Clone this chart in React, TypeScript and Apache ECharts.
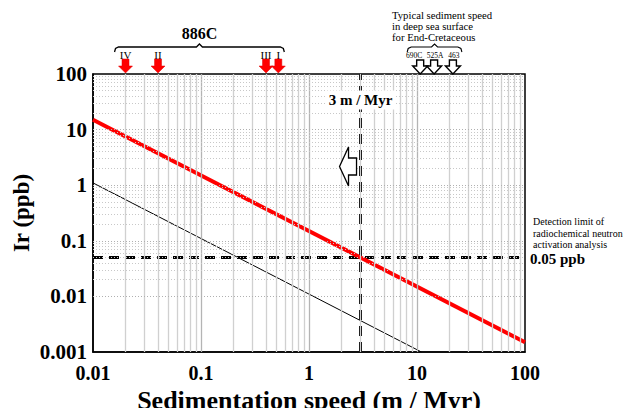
import React, { useEffect, useRef } from "react";
import * as echarts from "echarts";

const xTickLabels = ["0.01", "0.1", "1", "10", "100"];
const yTickLabels = ["0.001", "0.01", "0.1", "1", "10", "100"];
const redLine: [number, number][] = [[0.01, 15], [100, 0.0015]];
const blackLine: [number, number][] = [[0.01, 1.1], [11, 0.001]];
const detectionLimit = 0.05;
const speedLine = 3;
const site886C = [
  { label: "IV", speed: 0.02 },
  { label: "II", speed: 0.04 },
  { label: "III", speed: 0.4 },
  { label: "I", speed: 0.52 },
];
const deepSea = [
  { label: "690C", speed: 10.7 },
  { label: "525A", speed: 14.4 },
  { label: "463", speed: 21.5 },
];
const deepSeaLabelShift = [-6, 1, 1];
const minorMultipliers = [2, 3, 4, 5, 6, 7, 8, 9];
const xDecades = [0.01, 0.1, 1, 10];
const yDecades = [0.001, 0.01, 0.1, 1, 10];

const SERIF = '"Liberation Serif", "Times New Roman", serif';

function braceLine(x1: number, x2: number, y: number) {
  const cx = (x1 + x2) / 2;
  return [
    [x1, y + 5],
    [x1 + 1, y + 1.5],
    [x1 + 4, y],
    [cx - 3, y],
    [cx, y - 3],
    [cx + 3, y],
    [x2 - 4, y],
    [x2 - 1, y + 1.5],
    [x2, y + 5],
  ];
}

export default function App() {
  const ref = useRef<HTMLDivElement>(null);
  useEffect(() => {
    if (!ref.current) return;
    const chart = echarts.init(ref.current, null, { renderer: "svg" });
    const vMinor: any[] = [];
    xDecades.forEach((d) =>
      minorMultipliers.forEach((m) =>
        vMinor.push({ xAxis: d * m, lineStyle: { color: "#d0d0d0", width: 1.3, type: "solid" } })
      )
    );
    [0.1, 1, 10].forEach((d) =>
      vMinor.push({ xAxis: d, lineStyle: { color: "#b4b4b4", width: 1.3, type: "solid" } })
    );
    const hMinor: any[] = [];
    yDecades.forEach((d) =>
      minorMultipliers.forEach((m) =>
        hMinor.push({ yAxis: d * m, lineStyle: { color: "#c8c8c8", width: 1, type: [1, 2] } })
      )
    );
    [0.01, 0.1, 1, 10].forEach((d) =>
      hMinor.push({ yAxis: d, lineStyle: { color: "#b0b0b0", width: 1, type: [1, 2] } })
    );

    const labelFor = (arr: string[], offset: number) => (v: number) => {
      const e = Math.round(Math.log10(v));
      return arr[e + offset] ?? "";
    };

    chart.setOption({
      animation: false,
      grid: {
        left: 93,
        right: 108,
        top: 74,
        bottom: 64,
        show: true,
        borderColor: "#000",
        borderWidth: 1.5,
        backgroundColor: "transparent",
        containLabel: false,
        outerBoundsMode: "none",
      },
      xAxis: {
        type: "log",
        logBase: 10,
        min: 0.01,
        max: 100,
        name: "Sedimentation speed (m / Myr)",
        nameLocation: "middle",
        nameGap: 35,
        nameMoveOverlap: false,
        nameTextStyle: {
          fontFamily: SERIF,
          fontWeight: "bold",
          fontSize: 26,
          lineHeight: 26,
          color: "#000",
        },
        axisLine: { show: true, lineStyle: { color: "#000", width: 1.5 } },
        axisTick: { show: false },
        splitLine: { show: false },
        axisLabel: {
          formatter: labelFor(xTickLabels, 2),
          fontFamily: SERIF,
          fontWeight: "bold",
          fontSize: 20,
          lineHeight: 18,
          color: "#000",
          margin: 12,
        },
      },
      yAxis: {
        type: "log",
        logBase: 10,
        min: 0.001,
        max: 100,
        name: "Ir (ppb)",
        nameLocation: "middle",
        nameGap: 60,
        nameMoveOverlap: false,
        nameRotate: 90,
        nameTextStyle: { fontFamily: SERIF, fontWeight: "bold", fontSize: 23, color: "#000" },
        axisLine: { show: true, lineStyle: { color: "#000", width: 1.5 } },
        axisTick: { show: false },
        splitLine: { show: false },
        axisLabel: {
          formatter: labelFor(yTickLabels, 3),
          fontFamily: SERIF,
          fontWeight: "bold",
          fontSize: 21,
          color: "#000",
          margin: 6,
        },
      },
      series: [
        {
          type: "line",
          data: [[1, 1]],
          symbol: "none",
          lineStyle: { width: 0, opacity: 0 },
          silent: true,
          z: 1,
          markLine: {
            symbol: "none",
            silent: true,
            label: { show: false },
            data: [...vMinor, ...hMinor],
          },
        },
        {
          type: "line",
          data: blackLine,
          symbol: "none",
          lineStyle: { color: "#000", width: 1 },
          z: 3,
        },
        {
          type: "line",
          data: [
            [0.01, detectionLimit],
            [100, detectionLimit],
          ],
          symbol: "none",
          lineStyle: { color: "#000", width: 3, type: [10, 6] },
          z: 3,
        },
        {
          type: "line",
          data: [
            [speedLine, 0.001],
            [speedLine, 100],
          ],
          symbol: "none",
          lineStyle: { color: "#000", width: 3, type: [10, 6] },
          z: 3,
        },
        {
          type: "line",
          data: redLine,
          symbol: "none",
          lineStyle: { color: "#ff0000", width: 4 },
          z: 4,
        },
      ],
    });

    const px = (x: number, y: number) =>
      chart.convertToPixel({ xAxisIndex: 0, yAxisIndex: 0 }, [x, y]) as number[];
    const g: any[] = [];
    const txt = (text: string, x: number, y: number, font: string, align = "center", extra: any = {}) => ({
      type: "text",
      x,
      y,
      z: 10,
      style: {
        text,
        font,
        fill: "#000",
        align,
        verticalAlign: "middle",
        textAlign: align,
        textVerticalAlign: "middle",
        ...extra,
      },
    });

    // 886C site markers
    const sx = site886C.map((s) => px(s.speed, 1)[0]);
    const b1 = Math.min(...sx) - 11;
    const b2 = Math.max(...sx) + 6;
    g.push({
      type: "polyline",
      z: 10,
      shape: { points: braceLine(b1, b2, 47) },
      style: { stroke: "#000", lineWidth: 1.3, fill: null },
    });
    g.push(txt("886C", (b1 + b2) / 2, 33, `bold 16px ${SERIF}`));
    site886C.forEach((s, i) => {
      const x = sx[i];
      g.push(txt(s.label, x, 55, `11px ${SERIF}`));
      g.push({
        type: "polygon",
        z: 10,
        shape: {
          points: [
            [x - 3.5, 59],
            [x + 3.5, 59],
            [x + 3.5, 66],
            [x + 7, 66],
            [x, 73],
            [x - 7, 66],
            [x - 3.5, 66],
          ],
        },
        style: { fill: "#ff0000", stroke: "#e00000", lineWidth: 0.5 },
      });
    });

    // deep sea sites
    const dx = deepSea.map((s) => px(s.speed, 1)[0]);
    const d1 = Math.min(...dx) - 13;
    const d2 = Math.max(...dx) + 9;
    g.push({
      type: "polyline",
      z: 10,
      shape: { points: braceLine(d1, d2, 47) },
      style: { stroke: "#000", lineWidth: 1.1, fill: null },
    });
    deepSea.forEach((s, i) => {
      const x = dx[i];
      g.push(txt(s.label, x + deepSeaLabelShift[i], 55, `7.5px ${SERIF}`));
      g.push({
        type: "polygon",
        z: 10,
        shape: {
          points: [
            [x - 3.5, 60],
            [x + 3.5, 60],
            [x + 3.5, 66],
            [x + 7.5, 66],
            [x, 74],
            [x - 7.5, 66],
            [x - 3.5, 66],
          ],
        },
        style: { fill: "#fff", stroke: "#000", lineWidth: 1.4 },
      });
    });
    g.push(txt("Typical sediment speed", 392, 15, `10.7px ${SERIF}`, "left"));
    g.push(txt("in deep sea surface", 392, 26, `10.7px ${SERIF}`, "left"));
    g.push(txt("for End-Cretaceous", 392, 37, `10.7px ${SERIF}`, "left"));

    // 3 m / Myr label and left arrow
    const x3 = px(speedLine, 1)[0];
    g.push(
      txt("3 m / Myr", x3, 100, `bold 15px ${SERIF}`, "center", {
        backgroundColor: "#fff",
        padding: [2, 3],
      })
    );
    g.push({
      type: "polygon",
      z: 10,
      shape: {
        points: [
          [x3 - 4, 158],
          [x3 - 12, 158],
          [x3 - 12, 147],
          [x3 - 21, 166.5],
          [x3 - 12, 186],
          [x3 - 12, 175],
          [x3 - 4, 175],
        ],
      },
      style: { fill: "#fff", stroke: "#000", lineWidth: 1.3 },
    });

    // detection limit
    const yd = px(1, detectionLimit)[1];
    g.push(txt("Detection limit of", 533, yd - 36, `10px ${SERIF}`, "left"));
    g.push(txt("radiochemical neutron", 533, yd - 24.5, `10px ${SERIF}`, "left"));
    g.push(txt("activation analysis", 533, yd - 13, `10px ${SERIF}`, "left"));
    g.push(txt("0.05 ppb", 530, yd + 1, `bold 15px ${SERIF}`, "left"));

    chart.setOption({ graphic: g });

    return () => chart.dispose();
  }, []);
  return <div ref={ref} style={{ width: 633, height: 416, margin: -8 }} />;
}
